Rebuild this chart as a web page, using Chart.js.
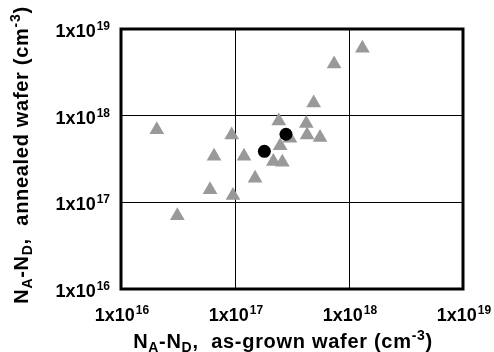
<!DOCTYPE html>
<html lang="en">
<head>
    <meta charset="UTF-8">
    <title>NA-ND annealed vs as-grown</title>
    <script src="https://cdn.jsdelivr.net/npm/chart.js"></script>
    <style>
        html, body { margin: 0; padding: 0; background: #fff; }
        #wrap { width: 494px; height: 352px; }
    </style>
</head>
<body>
<div id="wrap"><canvas id="myChart" width="494" height="352"></canvas></div>
<script>
    // data (cm^-3)
    const triX = [1.31e18, 7.4e17, 4.9e17, 2.42e17, 4.22e17, 2.06e16, 9.35e16, 4.29e17, 5.57e17, 3.03e17,
        2.49e17, 6.55e16, 1.2e17, 2.17e17, 2.6e17, 1.5e17, 6.04e16, 9.6e16, 3.12e16];
    const triY = [6.0e18, 3.95e18, 1.4e18, 8.7e17, 8.1e17, 6.9e17, 6.0e17, 6.0e17, 5.6e17, 5.5e17,
        4.5e17, 3.4e17, 3.4e17, 2.95e17, 2.9e17, 1.9e17, 1.4e17, 1.2e17, 7.0e16];
    const dotX = [2.8e17, 1.81e17];
    const dotY = [6.1e17, 3.88e17];
    const decades = [1e16, 1e17, 1e18, 1e19];
    const decadeExp = ['16', '17', '18', '19'];

    const FONT = '"Liberation Sans", Arial, Helvetica, sans-serif';

    function toPoints(xs, ys) {
        return xs.map((x, i) => ({ x: x, y: ys[i] }));
    }

    // draws a run of text pieces (sub/superscripts) starting at x, baseline y
    function drawRuns(ctx, runs, x, y, spacing) {
        ctx.letterSpacing = (spacing || 0) + 'px';
        runs.forEach(r => {
            ctx.font = 'bold ' + r.size + 'px ' + FONT;
            ctx.fillText(r.t, x + (r.dx || 0), y + (r.dy || 0));
            x += ctx.measureText(r.t).width + (r.dx || 0);
        });
        ctx.letterSpacing = '0px';
    }
    function runsWidth(ctx, runs, spacing) {
        let w = 0;
        ctx.letterSpacing = (spacing || 0) + 'px';
        runs.forEach(r => {
            ctx.font = 'bold ' + r.size + 'px ' + FONT;
            w += ctx.measureText(r.t).width + (r.dx || 0);
        });
        ctx.letterSpacing = '0px';
        return w;
    }
    function powRuns(exp) {
        return [{ t: '1x10', size: 18 }, { t: exp, size: 12, dy: -7, dx: 1 }];
    }

    const labelsPlugin = {
        id: 'labels',
        beforeDatasetsDraw(chart) {
            const { ctx, chartArea } = chart;
            ctx.save();
            ctx.strokeStyle = '#000';
            ctx.lineWidth = 3;
            ctx.strokeRect(chartArea.left, chartArea.top, chartArea.right - chartArea.left, chartArea.bottom - chartArea.top);
            ctx.restore();
        },
        afterDraw(chart) {
            const { ctx, scales } = chart;
            ctx.save();
            ctx.fillStyle = '#000';
            ctx.textBaseline = 'alphabetic';
            ctx.textAlign = 'left';
            decades.forEach((v, i) => {
                const runs = powRuns(decadeExp[i]);
                const w = runsWidth(ctx, runs);
                // x ticks
                const px = scales.x.getPixelForValue(v);
                drawRuns(ctx, runs, px - w / 2 + 1, 321);
                // y ticks
                const py = scales.y.getPixelForValue(v);
                drawRuns(ctx, runs, 110 - w, py + 8);
            });

            const sp = 0.7;
            const xTitle = [
                { t: 'N', size: 20 }, { t: 'A', size: 14, dy: 4 }, { t: '-N', size: 20 }, { t: 'D', size: 14, dy: 4 },
                { t: ',  as-grown wafer (cm', size: 20 }, { t: '-3', size: 14, dy: -8 }, { t: ')', size: 20 }
            ];
            const xw = runsWidth(ctx, xTitle, sp);
            drawRuns(ctx, xTitle, 283 - xw / 2, 348, sp);

            const yTitle = [
                { t: 'N', size: 20 }, { t: 'A', size: 14, dy: 4 }, { t: '-N', size: 20 }, { t: 'D', size: 14, dy: 4 },
                { t: ',  annealed wafer (cm', size: 20 }, { t: '-3', size: 14, dy: -8 }, { t: ')', size: 20 }
            ];
            const yw = runsWidth(ctx, yTitle, sp);
            ctx.translate(28, 155);
            ctx.rotate(-Math.PI / 2);
            drawRuns(ctx, yTitle, -yw / 2, 0, sp);
            ctx.restore();
        }
    };

    const decadeTicks = (scale) => {
        scale.ticks = decades.map(v => ({ value: v }));
    };

    new Chart(document.getElementById('myChart'), {
        type: 'scatter',
        data: {
            datasets: [{
                label: 'annealed (dots)',
                data: toPoints(dotX, dotY),
                pointStyle: 'circle',
                pointRadius: 6.5,
                backgroundColor: '#000',
                borderWidth: 0,
                order: 0
            }, {
                label: 'wafers',
                data: toPoints(triX, triY),
                pointStyle: 'triangle',
                pointRadius: 8.5,
                backgroundColor: '#999999',
                borderWidth: 0,
                order: 1
            }]
        },
        options: {
            responsive: false,
            animation: false,
            events: [],
            layout: { padding: { top: 29, right: 31, left: 0, bottom: 0 } },
            plugins: { legend: { display: false }, tooltip: { enabled: false } },
            scales: {
                x: {
                    type: 'logarithmic',
                    min: 1e16,
                    max: 1e19,
                    afterBuildTicks: decadeTicks,
                    afterFit: (s) => { s.height = 63; },
                    grid: { color: '#000', lineWidth: 1, drawTicks: false },
                    border: { display: false },
                    ticks: { display: false }
                },
                y: {
                    type: 'logarithmic',
                    min: 1e16,
                    max: 1e19,
                    afterBuildTicks: decadeTicks,
                    afterFit: (s) => { s.width = 121; },
                    grid: { color: '#000', lineWidth: 1, drawTicks: false },
                    border: { display: false },
                    ticks: { display: false }
                }
            }
        },
        plugins: [labelsPlugin]
    });
</script>
</body>
</html>
